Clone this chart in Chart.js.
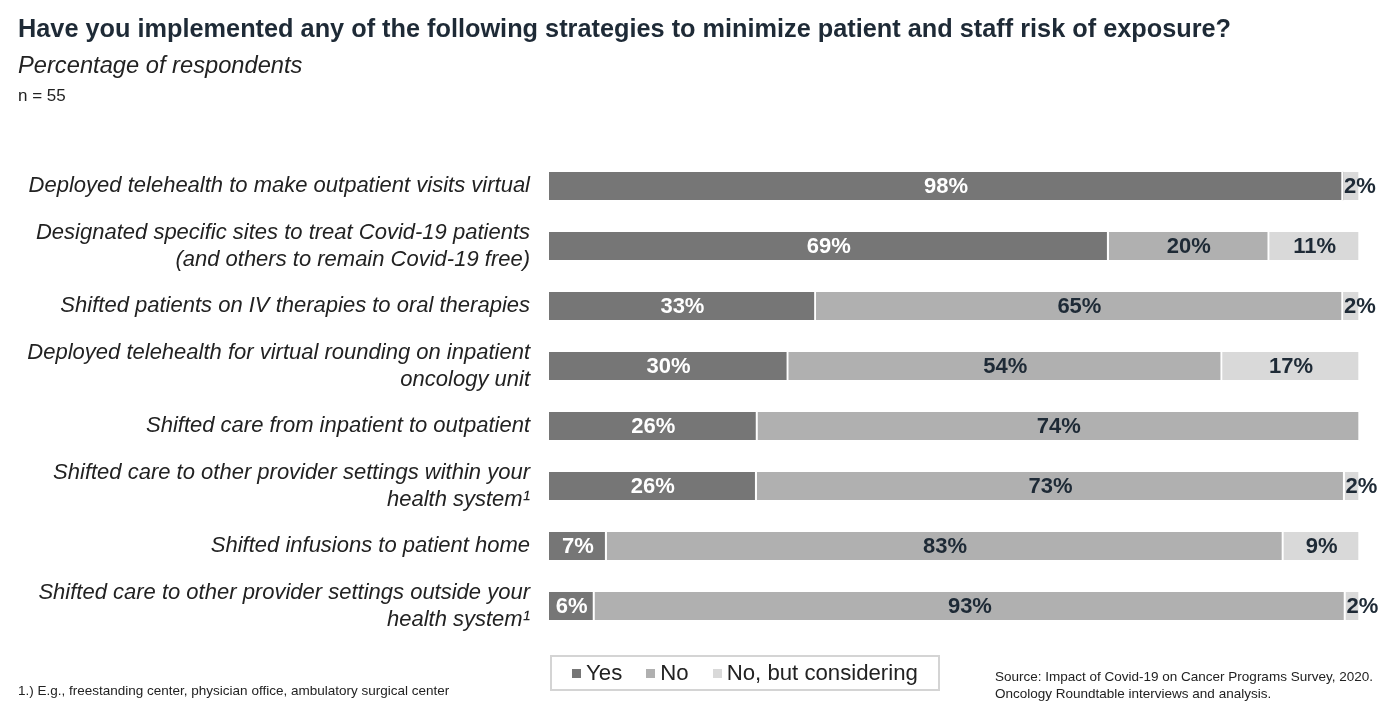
<!DOCTYPE html>
<html>
<head>
<meta charset="utf-8">
<script src="https://cdn.jsdelivr.net/npm/chart.js@4.4.0/dist/chart.umd.min.js"></script>
<style>
  html, body { margin: 0; padding: 0; background: #fff; }
  body { width: 1400px; height: 720px; position: relative; overflow: hidden; font-family: "Liberation Sans", Arial, sans-serif; color: #1e2a36; }
  #wrap { position: absolute; left: 0; top: 0; width: 1400px; height: 720px; }
  .txt { position: absolute; white-space: nowrap; }
  #title { left: 18px; top: 14px; font-size: 25.3px; font-weight: bold; }
  #subtitle { left: 18px; top: 52px; font-size: 23.7px; font-style: italic; color: #222; }
  #nval { left: 18px; top: 86px; font-size: 17px; color: #222; }
  #foot { left: 18px; top: 683px; font-size: 13.5px; color: #222; }
  #source { left: 995px; top: 668px; font-size: 13.5px; line-height: 17px; color: #222; }
  #legend { position: absolute; left: 550px; top: 655px; width: 386px; height: 32px; border: 2px solid #d4d4d4; display: flex; align-items: center; justify-content: center; font-size: 22.2px; color: #222; }
  #legend span.item { display: inline-flex; align-items: center; margin: 0 12px; }
  #legend span.box { display: inline-block; width: 9px; height: 9px; margin-right: 5px; }
</style>
</head>
<body>
<div id="wrap"><canvas id="chart"></canvas></div>
<div class="txt" id="title">Have you implemented any of the following strategies to minimize patient and staff risk of exposure?</div>
<div class="txt" id="subtitle">Percentage of respondents</div>
<div class="txt" id="nval">n = 55</div>
<div id="legend"></div>
<div class="txt" id="foot">1.) E.g., freestanding center, physician office, ambulatory surgical center</div>
<div class="txt" id="source">Source: Impact of Covid-19 on Cancer Programs Survey, 2020.<br>Oncology Roundtable interviews and analysis.</div>
<script>
// Categorias (linhas do gráfico)
const categories = [
    ["Deployed telehealth to make outpatient visits virtual"],
    ["Designated specific sites to treat Covid-19 patients", "(and others to remain Covid-19 free)"],
    ["Shifted patients on IV therapies to oral therapies"],
    ["Deployed telehealth for virtual rounding on inpatient", "oncology unit"],
    ["Shifted care from inpatient to outpatient"],
    ["Shifted care to other provider settings within your", "health system\u00b9"],
    ["Shifted infusions to patient home"],
    ["Shifted care to other provider settings outside your", "health system\u00b9"]
];

// Valores (percentual)
const yesValues = [97.9, 69.0, 32.9, 29.5, 25.7, 25.6, 7.1, 5.6];
const noValues = [0, 19.8, 65.0, 53.5, 74.3, 72.5, 83.45, 92.6];
const consideringValues = [2.1, 11.2, 2.1, 17.0, 0, 1.9, 9.45, 1.8];

const seriesNames = ["Yes", "No", "No, but considering"];
const seriesColors = ["#767676", "#b0b0b0", "#d9d9d9"];
const labelColors = ["#ffffff", "#1e2a36", "#1e2a36"];

// Legenda em HTML
const legendEl = document.getElementById('legend');
seriesNames.forEach((name, i) => {
    const item = document.createElement('span');
    item.className = 'item';
    item.innerHTML = `<span class="box" style="background:${seriesColors[i]}"></span>${name}`;
    legendEl.appendChild(item);
});

// Plugin para os rótulos de valor
const valueLabels = {
    id: 'valueLabels',
    afterDatasetsDraw(chart) {
        const ctx = chart.ctx;
        ctx.save();
        ctx.font = 'bold 22px "Liberation Sans", Arial, sans-serif';
        ctx.textBaseline = 'middle';
        chart.data.datasets.forEach((ds, di) => {
            const meta = chart.getDatasetMeta(di);
            meta.data.forEach((bar, i) => {
                const v = ds.data[i];
                if (!v) return;
                const text = Math.round(v) + '%';
                ctx.fillStyle = labelColors[di];
                if (v < 4) {
                    ctx.textAlign = 'left';
                    ctx.fillText(text, bar.base + 1, bar.y + 1);
                } else {
                    ctx.textAlign = 'center';
                    ctx.fillText(text, (bar.x + bar.base) / 2, bar.y + 1);
                }
            });
        });
        ctx.restore();
    }
};

const datasets = [yesValues, noValues, consideringValues].map((vals, i) => ({
    label: seriesNames[i],
    data: vals,
    backgroundColor: seriesColors[i],
    borderColor: '#ffffff',
    borderWidth: { left: 0, right: 2, top: 0, bottom: 0 },
    borderSkipped: false,
    barThickness: 28
}));

const ctx = document.getElementById('chart').getContext('2d');
new Chart(ctx, {
    type: 'bar',
    data: { labels: categories, datasets: datasets },
    options: {
        indexAxis: 'y',
        responsive: true,
        maintainAspectRatio: false,
        animation: false,
        layout: { padding: { top: 156, bottom: 84, right: 40, left: 0 } },
        plugins: {
            legend: { display: false },
            tooltip: { enabled: false }
        },
        scales: {
            x: {
                stacked: true,
                min: 0,
                max: 100,
                display: false
            },
            y: {
                stacked: true,
                grid: { display: false, drawTicks: false },
                border: { display: false },
                afterFit: function(scale) { scale.width = 549; },
                ticks: {
                    padding: 19,
                    color: '#222222',
                    font: { family: '"Liberation Sans", Arial, sans-serif', size: 22, style: 'italic', lineHeight: 1.22 }
                }
            }
        }
    },
    plugins: [valueLabels]
});
</script>
</body>
</html>
